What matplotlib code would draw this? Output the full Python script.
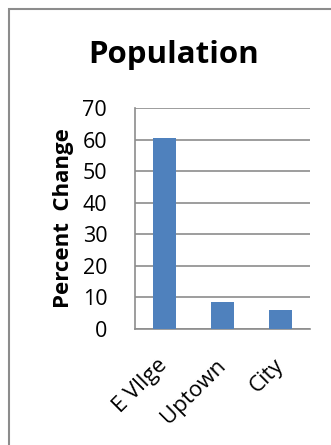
import matplotlib
matplotlib.use("Agg")
import matplotlib.pyplot as plt
from matplotlib.patches import Rectangle

# percent change in population by area
areas = ["E Vllge", "Uptown", "City"]
pct_change = [60.5, 8.5, 5.9]
y_ticks = [0, 10, 20, 30, 40, 50, 60, 70]

W, H = 331, 445
fig = plt.figure(figsize=(W / 100, H / 100), dpi=100)
plt.rcParams["font.family"] = ["Open Sans", "DejaVu Sans"]

# chart area border (runs off the right and bottom edges)
fig.patches.append(Rectangle((9 / W, -0.1), 1.2, (H - 9) / H + 0.1,
                             transform=fig.transFigure, fill=False,
                             edgecolor="#8c8c8c", linewidth=1.5))

ax = fig.add_axes([135 / W, 1 - 329 / H, 175 / W, 221 / H])
x = range(len(areas))
ax.bar(x, pct_change, width=0.39, color="#4F81BD", zorder=3)

ax.set_xlim(-0.5, len(areas) - 0.5)
ax.set_ylim(0, 70)
ax.set_yticks(y_ticks)
ax.set_yticklabels([str(t) for t in y_ticks], fontsize=15.5)
ax.yaxis.grid(True, color="#8c8c8c", linewidth=1.2, zorder=0)
ax.set_xticks(list(x))
ax.set_xticklabels(areas, rotation=45, ha="right", va="center",
                   rotation_mode="anchor", fontsize=16)
ax.tick_params(axis="y", length=0, pad=20)
ax.tick_params(axis="x", length=0, pad=24)

for side in ["top", "right"]:
    ax.spines[side].set_visible(False)
for side in ["left", "bottom"]:
    ax.spines[side].set_color("#8c8c8c")
    ax.spines[side].set_linewidth(1.2)

ax.set_ylabel("Percent  Change", fontsize=16, fontweight="bold", labelpad=6)
fig.text(174 / W, 1 - 55 / H, "Population", fontsize=22.5, fontweight="bold",
         ha="center", va="center")

fig.savefig("out.png", dpi=100)
